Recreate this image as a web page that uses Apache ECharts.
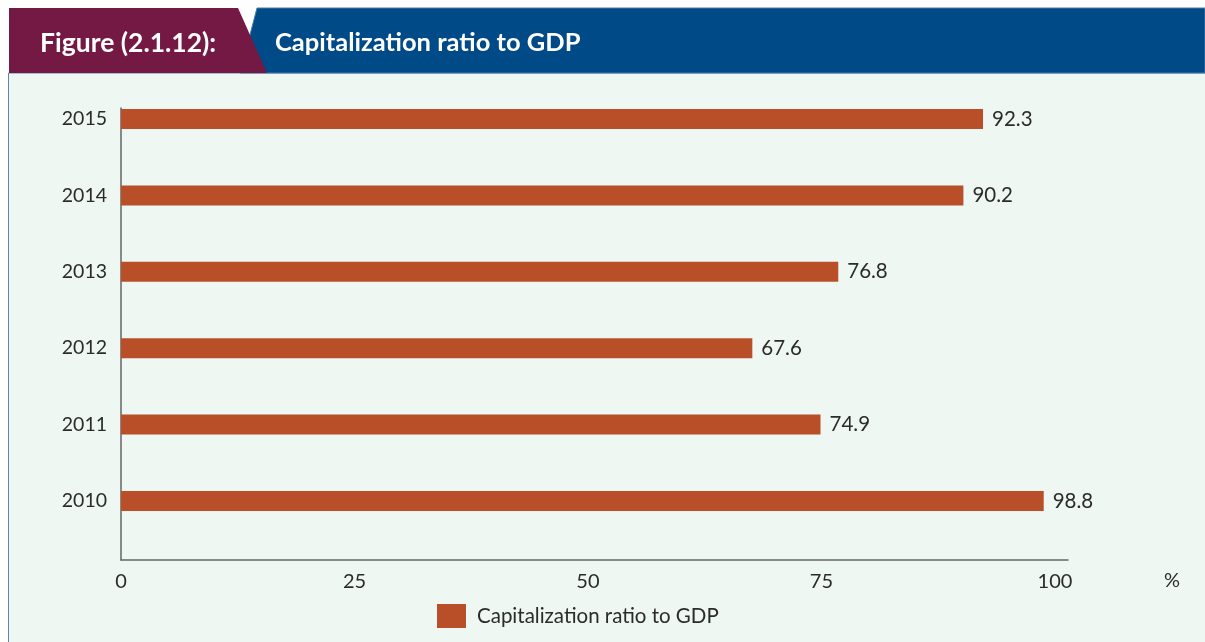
<!DOCTYPE html>
<html>
<head>
<meta charset="utf-8">
<script src="https://cdn.jsdelivr.net/npm/echarts@6/dist/echarts.min.js"></script>
<style>
  html, body { margin: 0; padding: 0; background: #ffffff; }
  #chart { width: 1205px; height: 642px; }
</style>
</head>
<body>
<div id="chart"></div>
<script>
// Capitalization ratio to GDP, by year (%)
const years = ['2010', '2011', '2012', '2013', '2014', '2015'];
const ratios = [98.8, 74.9, 67.6, 76.8, 90.2, 92.3];
const xTicks = [0, 25, 50, 75, 100];
const seriesName = 'Capitalization ratio to GDP';
const figureLabel = 'Figure (2.1.12):';
const figureTitle = 'Capitalization ratio to GDP';

const FONT = 'Lato, "Noto Sans", sans-serif';
const BAR = '#B84F28';
const X_MAX = 101.4;

const chart = echarts.init(document.getElementById('chart'));

chart.setOption({
  backgroundColor: '#ffffff',
  animation: false,
  graphic: [
    // panel behind the plot
    { type: 'rect', z: -10, shape: { x: 8.5, y: 73, width: 1200, height: 575 },
      style: { fill: '#EEF7F2', stroke: '#5D86B0', lineWidth: 1 } },
    // header band
    { type: 'polygon', z: -5, shape: { points: [[257, 8], [1205, 8], [1205, 73], [240, 73]] },
      style: { fill: '#004A87', stroke: '#4C7BAA', lineWidth: 1 } },
    { type: 'polygon', z: -4, shape: { points: [[9, 8], [238, 8], [267, 73], [9, 73]] },
      style: { fill: '#731943' } },
    { type: 'text', left: 40, top: 30,
      style: { text: figureLabel, fill: '#ffffff', font: 'bold 26.5px ' + FONT } },
    { type: 'text', left: 275, top: 30,
      style: { text: figureTitle, fill: '#ffffff', font: 'bold 25.5px ' + FONT } }
  ],
  legend: {
    bottom: 14,
    left: 437,
    padding: 0,
    itemWidth: 29,
    itemHeight: 24,
    itemGap: 10,
    icon: 'rect',
    data: [seriesName],
    textStyle: { fontFamily: FONT, fontSize: 20.5, color: '#2b2b2b', padding: [0, 0, 0, 6] }
  },
  grid: [
    // frame with the axes
    { left: 121, right: 137, top: 108, bottom: 82, containLabel: false },
    // band holding the bars
    { left: 121, right: 137, top: 119, bottom: 141, containLabel: false }
  ],
  xAxis: [
    {
      gridIndex: 0, type: 'value', min: 0, max: X_MAX, interval: 25,
      name: '%', nameLocation: 'end', nameGap: 96,
      nameTextStyle: { fontFamily: FONT, fontSize: 20, color: '#2b2b2b', verticalAlign: 'top', padding: [11, 0, 0, 0] },
      axisLine: { show: true, lineStyle: { color: '#666', width: 1.5 } },
      axisTick: { show: false },
      splitLine: { show: false },
      axisLabel: {
        margin: 12, fontFamily: FONT, fontSize: 20, color: '#2b2b2b',
        formatter: v => (xTicks.indexOf(v) >= 0 ? String(v) : '')
      }
    },
    {
      gridIndex: 1, type: 'value', min: 0, max: X_MAX, show: false
    }
  ],
  yAxis: [
    {
      gridIndex: 0, type: 'value', min: 0, max: 1,
      axisLine: { show: true, lineStyle: { color: '#666', width: 1.5 } },
      axisTick: { show: false }, axisLabel: { show: false }, splitLine: { show: false }
    },
    {
      gridIndex: 1, type: 'category', data: years, boundaryGap: false,
      axisLine: { show: false }, axisTick: { show: false }, splitLine: { show: false },
      axisLabel: { margin: 14, fontFamily: FONT, fontSize: 19.5, color: '#2b2b2b' }
    }
  ],
  series: [
    {
      name: seriesName,
      type: 'bar',
      xAxisIndex: 1,
      yAxisIndex: 1,
      data: ratios,
      barWidth: 20,
      itemStyle: { color: BAR },
      label: {
        show: true, position: 'right', distance: 9,
        fontFamily: FONT, fontSize: 20.5, color: '#2b2b2b',
        formatter: p => p.value.toFixed(1)
      }
    }
  ]
});
</script>
</body>
</html>
